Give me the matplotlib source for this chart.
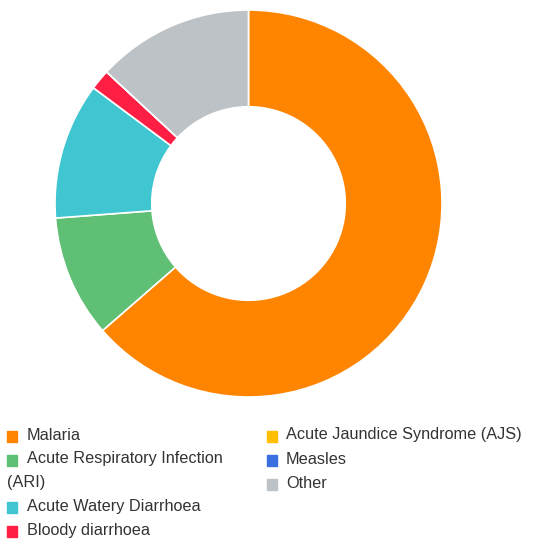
import matplotlib
matplotlib.use("Agg")
import matplotlib.pyplot as plt
from matplotlib.patches import Rectangle

plt.rcParams['font.family'] = ['Liberation Sans', 'DejaVu Sans']

labels = ["Malaria", "Acute Respiratory Infection", "Acute Watery Diarrhoea",
          "Bloody diarrhoea", "Acute Jaundice Syndrome (AJS)", "Measles", "Other"]
values = [63.6, 10.2, 11.4, 1.7, 0.0, 0.0, 13.1]
colors = ["#ff8500", "#5fbf74", "#40c6d0", "#ff1f45", "#ffbf00", "#3b6fe0", "#bcc2c6"]

fig = plt.figure(figsize=(5.6, 5.39), dpi=100)
W, H = 560, 539

# donut
ax = fig.add_axes([55 / W, (H - 397) / H, 387 / W, 387 / H])
ax.pie(values, colors=colors, startangle=90, counterclock=False, radius=1,
       wedgeprops=dict(width=0.5, edgecolor="white", linewidth=1.2))
ax.set_xlim(-1, 1)
ax.set_ylim(-1, 1)
ax.set_aspect("equal")
ax.axis("off")

# legend, drawn by hand (two columns, wrapped label)
def marker(x, y, c):
    fig.patches.append(Rectangle((x / W, (H - y - 5.5) / H), 10 / W, 11 / H,
                                 transform=fig.transFigure, color=c))

def label(x, y, s):
    fig.text(x / W, (H - y) / H, s, fontsize=11.7, color="#333333", va="center")

left_rows = [436, 460, 507, 531]
for i, y in enumerate(left_rows):
    marker(7, y, colors[i])
    label(27, y - 1, labels[i])
label(7, 483, "(ARI)")

right_rows = [436, 460, 484]
for j, y in enumerate(right_rows):
    marker(267, y, colors[4 + j])
    label(286, y - 1, labels[4 + j])

fig.savefig("out.png", dpi=100)
